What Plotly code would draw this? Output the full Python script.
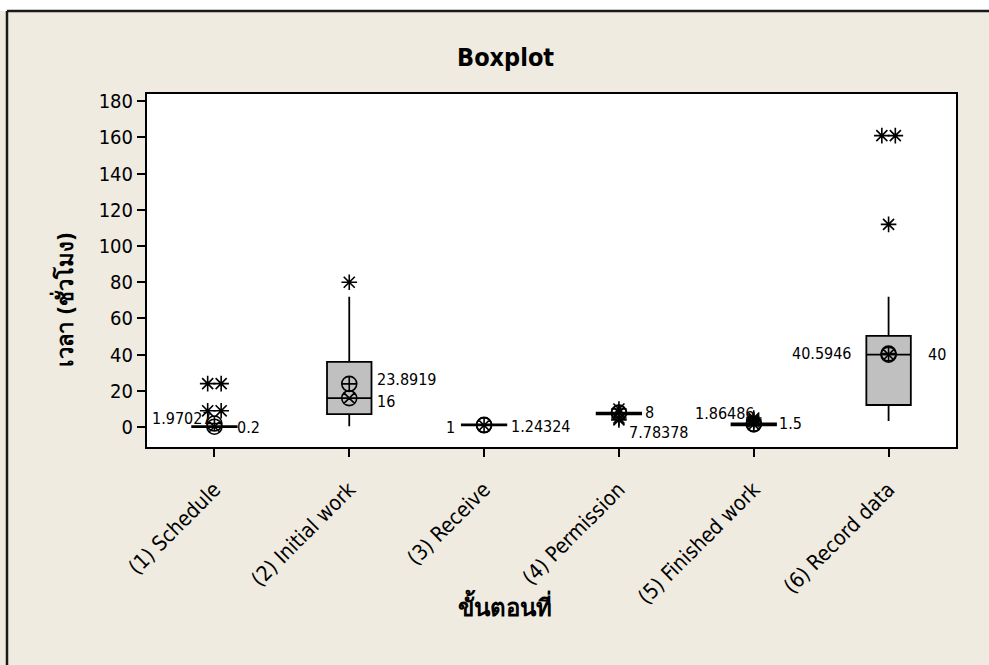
import plotly.graph_objects as go

# Processing steps and their summary statistics (hours)
categories = ["(1) Schedule", "(2) Initial work", "(3) Receive",
              "(4) Permission", "(5) Finished work", "(6) Record data"]
q1 = [0.0, 7.2, 1.0, 7.0, 1.0, 12.2]
median = [0.2, 16, 1, 8, 1.5, 40]
q3 = [0.5, 36, 1.5, 8.0, 2.0, 50.4]
lower_whisker = [0.0, 0.5, 1.0, 7.0, 1.0, 3.3]
upper_whisker = [1.0, 72, 1.5, 8.0, 2.5, 72]
mean = [1.97027, 23.8919, 1.24324, 7.78378, 1.86486, 40.5946]
outliers = [
    [9, 9, 24, 24],
    [80],
    [],
    [10, 5, 4],
    [4, 5, 3],
    [112, 161, 161],
]

W, H = 989, 665
PL, PR, PT, PB = 147, 956, 94, 447          # plot-area pixel box
YMIN, YMAX = -11, 184
FONT = "DejaVu Sans Condensed, DejaVu Sans, sans-serif"
BG = "#EFEBE0"


def px_x(p):
    return (p - PL) / (PR - PL)


def px_y(p):
    return (PB - p) / (PB - PT)


fig = go.Figure()

# Boxes from precomputed quartiles
fig.add_trace(go.Box(
    x=list(range(len(categories))),
    q1=q1, median=median, q3=q3,
    lowerfence=lower_whisker, upperfence=upper_whisker,
    width=0.33, whiskerwidth=0,
    fillcolor="#C0C0C0",
    line=dict(color="black", width=1.8),
    boxpoints=False, hoverinfo="skip", showlegend=False,
))

# Outliers, ties spread side by side
ox, oy = [], []
for i, vals in enumerate(outliers):
    seen = {}
    for v in vals:
        seen[v] = seen.get(v, 0) + 1
    for v, k in seen.items():
        for j in range(k):
            ox.append(i + (j - (k - 1) / 2) * 0.1)
            oy.append(v)
fig.add_trace(go.Scatter(
    x=ox, y=oy, mode="markers",
    marker=dict(symbol="asterisk-open", size=13, color="black",
                line=dict(color="black", width=1.6)),
    hoverinfo="skip", showlegend=False,
))

# Median and mean symbols
fig.add_trace(go.Scatter(
    x=list(range(len(categories))), y=median, mode="markers",
    marker=dict(symbol="circle-x-open", size=15, color="black",
                line=dict(color="black", width=1.6)),
    hoverinfo="skip", showlegend=False,
))
fig.add_trace(go.Scatter(
    x=list(range(len(categories))), y=mean, mode="markers",
    marker=dict(symbol="circle-cross-open", size=15, color="black",
                line=dict(color="black", width=1.6)),
    hoverinfo="skip", showlegend=False,
))

# Value labels: (side, xshift, yshift) per group for mean and median
mean_place = [("right", 0, 5), ("left", 26, 4), ("left", 25, -2),
              ("left", 8, -19), ("right", 3, 10), ("right", -35, 0)]
median_place = [("left", 21, -1), ("left", 26, -3), ("right", -27, -2),
                ("left", 24, 0), ("left", 23, 1), ("left", 37, 0)]
annotations = []
for i in range(len(categories)):
    for val, (anchor, xs, ys) in ((mean[i], mean_place[i]),
                                  (median[i], median_place[i])):
        annotations.append(dict(
            x=i, y=val, xref="x", yref="y", text=f"{val:g}",
            showarrow=False, xanchor=anchor, yanchor="middle",
            xshift=xs, yshift=ys,
            font=dict(family=FONT, size=16, color="black"),
        ))

# Titles
annotations.append(dict(
    x=px_x(505), y=px_y(58), xref="paper", yref="paper",
    text="<b>Boxplot</b>", showarrow=False,
    xanchor="center", yanchor="middle",
    font=dict(family=FONT, size=25, color="black"),
))
annotations.append(dict(
    x=px_x(63), y=px_y(300), xref="paper", yref="paper",
    text="<b>เวลา (ชั่วโมง)</b>", showarrow=False, textangle=-90,
    xanchor="center", yanchor="middle",
    font=dict(family=FONT, size=22, color="black"),
))
annotations.append(dict(
    x=px_x(505), y=px_y(605), xref="paper", yref="paper",
    text="<b>ขั้นตอนที่</b>", showarrow=False,
    xanchor="center", yanchor="middle",
    font=dict(family=FONT, size=24, color="black"),
))

shapes = [
    # white strip above the outer frame
    dict(type="rect", xref="paper", yref="paper", layer="below",
         x0=px_x(0), x1=px_x(W), y0=px_y(0), y1=px_y(11),
         fillcolor="white", line=dict(width=0)),
    # outer frame lines
    dict(type="line", xref="paper", yref="paper",
         x0=px_x(7), x1=px_x(W), y0=px_y(11), y1=px_y(11),
         line=dict(color="#1a1a1a", width=2.5)),
    dict(type="line", xref="paper", yref="paper",
         x0=px_x(7), x1=px_x(7), y0=px_y(11), y1=px_y(H),
         line=dict(color="#1a1a1a", width=2.5)),
]

fig.update_layout(
    width=W, height=H,
    margin=dict(l=PL, r=W - PR, t=PT, b=H - PB),
    paper_bgcolor=BG, plot_bgcolor="white",
    font=dict(family=FONT, size=20, color="black"),
    showlegend=False,
    annotations=annotations,
    shapes=shapes,
    xaxis=dict(
        range=[-0.5, len(categories) - 0.5],
        tickvals=list(range(len(categories))), ticktext=categories,
        tickangle=-45, ticks="outside", ticklen=8, tickwidth=1.5,
        tickcolor="black", showgrid=False, zeroline=False,
        showline=True, linecolor="black", linewidth=2, mirror=True,
        ticklabelstandoff=12,
        tickfont=dict(family=FONT, size=21, color="black"),
    ),
    yaxis=dict(
        range=[YMIN, YMAX], tickvals=list(range(0, 181, 20)),
        ticks="outside", ticklen=8, tickwidth=1.5, tickcolor="black",
        showgrid=False, zeroline=False,
        showline=True, linecolor="black", linewidth=2, mirror=True,
        tickfont=dict(family=FONT, size=20, color="black"),
    ),
)

fig.write_html("out.html")
